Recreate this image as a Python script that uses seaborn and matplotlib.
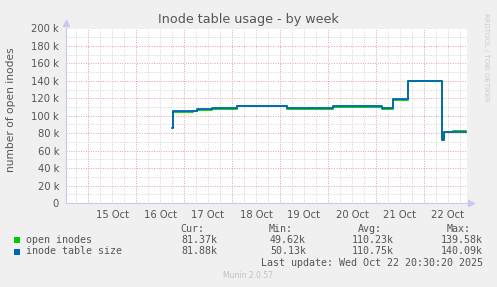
import numpy as np
import pandas as pd
import matplotlib
matplotlib.use("Agg")
import matplotlib.pyplot as plt
from matplotlib.ticker import MultipleLocator, FixedLocator, NullFormatter
from matplotlib.patches import Rectangle
import seaborn as sns

# ---- data (hours since 15 Oct 00:00, values in thousands) ----
hours = [41.8, 42.3, 52.3, 54.3, 61.8, 74.7, 99.3, 122.7, 146.8, 152.7, 160.2, 176.8, 177.9, 182.5, 188.8]
table_size = [86.5, 105.0, 106.0, 107.3, 108.8, 111.5, 108.8, 110.7, 108.4, 119.5, 139.9, 72.5, 81.6, 81.9, 81.9]
open_inodes = [86.0, 104.0, 105.0, 106.3, 108.2, 111.0, 108.0, 110.2, 108.0, 118.6, 139.5, 72.0, 81.0, 82.0, 81.4]
day_labels = ["15 Oct", "16 Oct", "17 Oct", "18 Oct", "19 Oct", "20 Oct", "21 Oct", "22 Oct"]
series_names = ["open inodes", "inode table size"]
series_colors = ["#00CC00", "#0066B3"]
cur_vals = ["81.37k", "81.88k"]
min_vals = ["49.62k", "50.13k"]
avg_vals = ["110.23k", "110.75k"]
max_vals = ["139.58k", "140.09k"]

W, H = 497, 287
sns.set_style("white")
plt.rcParams["font.family"] = ["DejaVu Sans"]
fig = plt.figure(figsize=(W / 100, H / 100), dpi=100, facecolor="#F0F0F0")

def fx(x):
    return x / W

def fy(y):
    return 1 - y / H

left, right, top, bottom = 66, 467, 28.5, 203
ax = fig.add_axes([fx(left), fy(bottom), (right - left) / W, (bottom - top) / H])
ax.set_facecolor("white")

df = pd.DataFrame({
    "h": hours * 2,
    "v": [v * 1000 for v in open_inodes] + [v * 1000 for v in table_size],
    "s": [series_names[0]] * len(hours) + [series_names[1]] * len(hours),
})
sns.lineplot(data=df, x="h", y="v", hue="s", palette=series_colors, ax=ax,
             drawstyle="steps-post", linewidth=1.3, legend=False, estimator=None, sort=False)

ax.set_xlim(-11, 189.5)
ax.set_ylim(0, 200000)

# grids
ax.xaxis.set_major_locator(FixedLocator([24 * k for k in range(8)]))
ax.xaxis.set_minor_locator(MultipleLocator(6))
ax.yaxis.set_major_locator(MultipleLocator(20000))
ax.yaxis.set_minor_locator(MultipleLocator(10000))
ax.xaxis.set_major_formatter(NullFormatter())
ax.grid(which="minor", color="#d4d4d4", linestyle=(0, (1, 1.5)), linewidth=0.7)
ax.grid(which="major", color="#e8a0a0", linestyle=(0, (1, 1.5)), linewidth=0.7)
ax.set_axisbelow(True)

ylabels = ["0"] + [f"{v} k" for v in range(20, 201, 20)]
ax.set_yticks([v * 1000 for v in range(0, 201, 20)])
ax.set_yticklabels(ylabels)
ax.tick_params(axis="y", which="major", length=3, color="#bbbbbb", labelsize=7.2, labelcolor="#555555", pad=2)
ax.tick_params(axis="y", which="minor", length=2, color="#cccccc")
ax.tick_params(axis="x", which="major", length=4, color="#e08080", direction="out")
ax.tick_params(axis="x", which="minor", length=2, color="#cccccc")

sec = ax.secondary_xaxis("bottom")
sec.set_xticks([12 + 24 * k for k in range(8)])
sec.set_xticklabels(day_labels)
sec.tick_params(length=0, labelsize=7.2, labelcolor="#555555", pad=5)
for s in sec.spines.values():
    s.set_visible(False)

for s in ["top", "right"]:
    ax.spines[s].set_visible(False)
for s in ["left", "bottom"]:
    ax.spines[s].set_color("#c8c8f0")
    ax.spines[s].set_linewidth(0.8)
ax.plot([0], [1.03], marker="^", color="#c8c8f0", markersize=4, transform=ax.transAxes, clip_on=False)
ax.plot([1.01], [0], marker=">", color="#c8c8f0", markersize=4, transform=ax.transAxes, clip_on=False)

ax.set_xlabel("")
ax.set_ylabel("")
fig.text(fx(11.5), fy(110), "number of open inodes", rotation=90, ha="center", va="center",
         fontsize=7.7, color="#555555")

fig.text(0.5, fy(19), "Inode table usage - by week", ha="center", va="center", fontsize=9.2, color="#555555")
fig.text(fx(486), fy(13), "RRDTOOL / TOBI OETIKER", rotation=270, ha="center", va="top", fontsize=5.0, color="#cccccc")

mono = "DejaVu Sans Mono"
fs = 7.2
hdr_y = 228.5
for lbl, xr in zip(["Cur:", "Min:", "Avg:", "Max:"], [204, 293, 382, 471]):
    fig.text(fx(xr), fy(hdr_y), lbl, ha="right", va="center", fontsize=fs, family=mono, color="#555555")
for i in range(2):
    yy = 240 + 11.5 * i
    fig.patches.append(Rectangle((fx(14), fy(yy + 3)), 6 / W, 6 / H, transform=fig.transFigure,
                                 facecolor=series_colors[i], edgecolor="none"))
    fig.text(fx(26), fy(yy), series_names[i], ha="left", va="center", fontsize=fs, family=mono, color="#555555")
    for val, xr in zip([cur_vals[i], min_vals[i], avg_vals[i], max_vals[i]], [217, 306, 394, 483]):
        fig.text(fx(xr), fy(yy), val, ha="right", va="center", fontsize=fs, family=mono, color="#555555")
fig.text(fx(483), fy(263), "Last update: Wed Oct 22 20:30:20 2025", ha="right", va="center",
         fontsize=fs, family=mono, color="#555555")
fig.text(fx(248), fy(276), "Munin 2.0.57", ha="center", va="center", fontsize=5.5, color="#c0c0c0")

fig.savefig("out.png", dpi=100, facecolor=fig.get_facecolor())
